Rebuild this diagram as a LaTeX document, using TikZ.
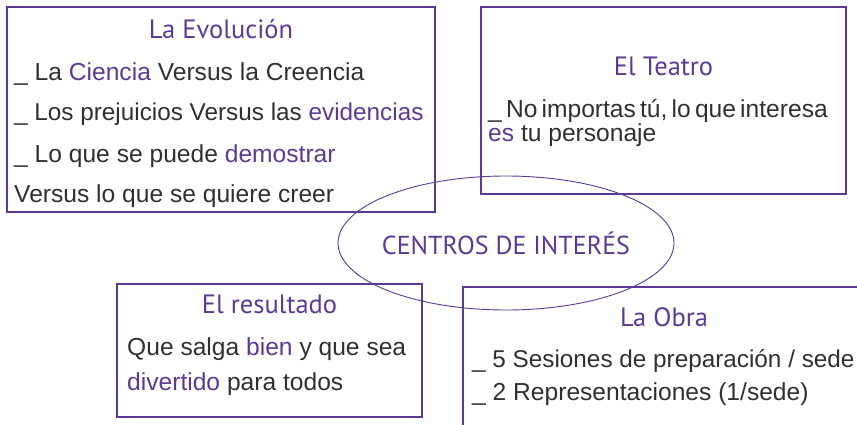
\documentclass[tikz,border=0pt]{standalone}
\usepackage{fontspec}
\setmainfont{Liberation Sans}
\newfontfamily\titlefont{PT Sans}
\usetikzlibrary{shapes.geometric}
\definecolor{vio}{RGB}{92,58,148}
\definecolor{ink}{RGB}{48,48,48}
\newcommand\hl[1]{\textcolor{vio}{#1}}
\begin{document}
\begin{tikzpicture}[x=1pt,y=-1pt,
  box/.style={draw=vio, line width=1.1pt, inner sep=0pt},
  ttl/.style={anchor=base, text=vio, inner sep=0pt, font=\titlefont\fontsize{26.5}{26}\selectfont},
  txt/.style={anchor=base west, text=ink, inner sep=0pt, font=\fontsize{24.6}{25}\selectfont},
  hub/.style={inner sep=0pt, text=vio, font=\titlefont\fontsize{26}{26}\selectfont},
  hubline/.style={draw=vio, line width=0.9pt}]
\useasboundingbox (0,0) rectangle (857,424);
\clip (0,0) rectangle (857,424);
% boxes
\node[box, minimum width=428pt, minimum height=205pt] (evo) at (221,109.5) {};
\node[box, minimum width=365pt, minimum height=187pt] (teatro) at (663.5,100.5) {};
\node[box, minimum width=305pt, minimum height=133pt] (res) at (269.5,350.5) {};
\node[box, minimum width=437pt, minimum height=183pt] (obra) at (681.5,378.5) {};
% La Evolucion
\node[ttl] (evoT) at (221,38) {La Evolución};
\node[txt] (evo1) at (14,80) {\_ La \hl{Ciencia} Versus la Creencia};
\node[txt, font=\fontsize{24.3}{25}\selectfont] (evo2) at (14,120) {\_ Los prejuicios Versus las \hl{evidencias}};
\node[txt] (evo3) at (14,162) {\_ Lo que se puede \hl{demostrar}};
\node[txt] (evo4) at (14,202) {Versus lo que se quiere creer};
% El Teatro
\node[ttl] (teaT) at (663.5,75) {El Teatro};
\node[txt] (tea1) at (488,117) {\spaceskip=0.17em plus 0.05em\relax\_ No importas tú, lo que interesa};
\node[txt] (tea2) at (488,141) {\hl{es} tu personaje};
% El resultado
\node[ttl] (resT) at (269.5,313) {El resultado};
\node[txt] (res1) at (127,355) {Que salga \hl{bien} y que sea};
\node[txt] (res2) at (127,390) {\hl{divertido} para todos};
% La Obra
\node[ttl] (obraT) at (664,326) {La Obra};
\node[txt, font=\fontsize{24.3}{25}\selectfont] (obra1) at (472,367) {\_ 5 Sesiones de preparación / sede};
\node[txt] (obra2) at (472,400) {\_ 2 Representaciones (1/sede)};
% hub
\node[hub] (hub) at (506,243) {CENTROS DE INTERÉS};
\draw[hubline] (hub.center) ellipse [x radius=168, y radius=67];
\end{tikzpicture}
\end{document}
